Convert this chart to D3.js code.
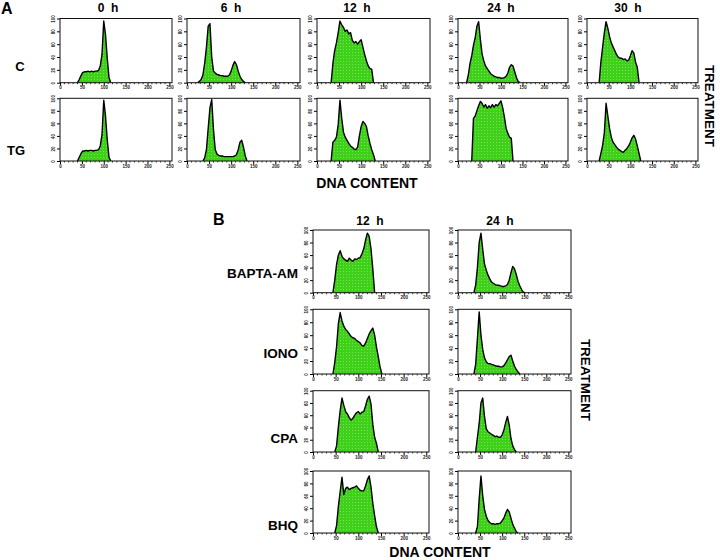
<!DOCTYPE html>
<html><head><meta charset="utf-8">
<script src="https://cdn.jsdelivr.net/npm/d3@7"></script>
<style>body{margin:0;background:#fff} text{font-family:"Liberation Sans",Arial,Helvetica,sans-serif}</style>
</head><body><svg id="c" width="720" height="560"></svg>
<script>
// ---------- data ----------
const binWidth = 4;                       // channels per histogram bin
const xTicks = [0, 50, 100, 150, 200, 250];
const yTicks = [0, 20, 40, 60, 80, 100];
const timesA = ["0  h", "6  h", "12  h", "24  h", "30  h"];
const rowsA = ["C", "TG"];
const timesB = ["12  h", "24  h"];
const rowsB = ["BAPTA-AM", "IONO", "CPA", "BHQ"];

// first channel of each histogram
const startA_C  = [40, 24, 32, 20, 28];
const startA_TG = [40, 36, 32, 32, 28];
const startB_12 = [44, 44, 48, 48];
const startB_24 = [36, 36, 40, 40];

// A, control
const A_C_0h  = [0,5,11,16,17,17,18,17,18,17,18,18,19,26,44,96,75,38,8,0];
const A_C_6h  = [0,2,5,12,30,55,88,92,40,18,15,13,12,11,11,10,10,10,12,18,27,33,28,18,10,5,2,0];
const A_C_12h = [0,30,50,62,78,96,90,86,80,82,76,78,66,62,64,60,64,67,55,44,34,26,22,21,0];
const A_C_24h = [0,12,30,42,58,70,88,95,68,45,34,26,22,18,14,12,10,9,8,8,7,7,8,10,15,24,28,26,17,8,2,0];
const A_C_30h = [0,32,55,78,95,85,72,62,56,50,44,40,38,38,36,37,34,35,42,50,46,32,24,0];
// A, thapsigargin
const A_TG_0h  = [0,6,12,16,16,17,16,17,17,16,17,17,18,24,42,97,72,34,6,0];
const A_TG_6h  = [0,5,18,52,85,98,50,18,11,9,8,8,7,7,7,7,7,7,8,10,18,30,33,22,8,0];
const A_TG_12h = [0,30,33,38,58,97,68,46,38,33,28,24,22,19,18,22,40,55,63,60,55,40,28,18,10,0];
const A_TG_24h = [0,68,72,80,88,95,92,86,90,84,88,85,90,86,90,88,92,96,85,70,52,44,38,36,0];
const A_TG_30h = [0,12,25,45,92,72,52,38,30,26,22,19,17,15,14,17,20,24,30,37,41,35,24,12,0];
// B, 12 h
const B_BAPTA_12h = [0,20,45,60,67,58,54,52,50,55,52,50,54,53,55,56,62,70,84,95,90,70,38,0];
const B_IONO_12h  = [0,18,42,78,95,82,74,69,66,62,58,56,55,52,50,48,44,43,48,55,62,67,71,60,42,27,11,0];
const B_CPA_12h   = [0,10,41,68,88,76,66,62,56,52,55,60,64,66,62,65,66,75,86,91,78,45,24,14,0];
const B_BHQ_12h   = [0,12,43,67,90,62,72,74,70,72,73,74,76,72,69,68,68,76,86,92,74,48,28,10,0];
// B, 24 h
const B_BAPTA_24h = [0,12,40,80,95,69,46,36,28,22,17,15,13,12,12,11,10,10,11,13,20,32,42,38,29,18,11,5,1,0];
const B_IONO_24h  = [0,15,55,96,60,38,25,19,16,16,15,14,13,12,12,11,11,13,17,22,27,29,20,12,7,3,0];
const B_CPA_24h   = [0,24,47,80,88,58,38,33,31,29,27,25,26,24,24,28,36,48,58,44,22,10,4,0];
const B_BHQ_24h   = [0,10,55,92,60,38,27,20,17,15,15,14,15,15,16,20,24,32,38,34,24,14,8,2,0];

// ---------- layout ----------
const colsA = [[60,172],[187,300],[317,430],[458,568],[587,698]];
const rowYA = [[18.5,82.7],[98.3,161]];
const colsB = [[313,429],[458,571]];
const rowYB = [[230,292.7],[309.3,374],[390.7,452],[471,533]];

const svg = d3.select("#c");
const defs = svg.append("defs");
const pat = defs.append("pattern").attr("id","dots").attr("width",3).attr("height",3)
  .attr("patternUnits","userSpaceOnUse");
pat.append("rect").attr("width",3).attr("height",3).attr("fill","#3fd11a");
pat.append("rect").attr("x",1).attr("y",1).attr("width",0.9).attr("height",0.9).attr("fill","#88e468");

function panel(xr, yr, start, values){
  const x = d3.scaleLinear().domain([0,256]).range(xr);
  const y = d3.scaleLinear().domain([0,100]).range([yr[1], yr[0]]);
  const g = svg.append("g");
  const pts = values.map((v,i)=>[start + i*binWidth, v]);
  g.append("path").datum(pts)
    .attr("d", d3.area().x(d=>x(d[0])).y0(y(0)).y1(d=>y(d[1])))
    .attr("fill","url(#dots)");
  g.append("path").datum(pts)
    .attr("d", d3.line().x(d=>x(d[0])).y(d=>y(d[1])))
    .attr("fill","none").attr("stroke","#000").attr("stroke-width",1.4).attr("stroke-linejoin","round");
  // x axis
  const xa = g.append("g").attr("transform",`translate(0,${yr[1]})`)
    .call(d3.axisBottom(x).tickValues(xTicks).tickSize(3).tickSizeOuter(0).tickPadding(0.5));
  xa.select(".domain").remove();
  xa.selectAll("text").attr("font-size",4.5).attr("font-weight","bold").attr("fill","#222");
  const minor = d3.range(10, 256, 10).filter(v=>v%50!==0);
  g.append("g").selectAll("line").data(minor).join("line")
    .attr("x1",d=>x(d)).attr("x2",d=>x(d)).attr("y1",yr[1]).attr("y2",yr[1]+1.5)
    .attr("stroke","#000").attr("stroke-width",0.8);
  // y axis
  const ya = g.append("g").attr("transform",`translate(${xr[0]},0)`)
    .call(d3.axisLeft(y).tickValues(yTicks).tickSize(3).tickSizeOuter(0));
  ya.select(".domain").remove();
  ya.selectAll("text").attr("x",null).attr("dy",null)
    .attr("transform","translate(-5,0) rotate(-90)").attr("text-anchor","middle")
    .attr("font-size",4.5).attr("font-weight","bold").attr("fill","#222");
  xa.selectAll("line").attr("stroke","#000");
  ya.selectAll("line").attr("stroke","#000");
  // frame
  g.append("rect").attr("x",xr[0]).attr("y",yr[0]).attr("width",xr[1]-xr[0]).attr("height",yr[1]-yr[0])
    .attr("fill","none").attr("stroke","#111").attr("stroke-width",1);
}

const dataA = [
  [A_C_0h, A_C_6h, A_C_12h, A_C_24h, A_C_30h],
  [A_TG_0h, A_TG_6h, A_TG_12h, A_TG_24h, A_TG_30h]
];
const startsA = [startA_C, startA_TG];
dataA.forEach((row, r) => row.forEach((vals, c) => panel(colsA[c], rowYA[r], startsA[r][c], vals)));

const dataB = [
  [B_BAPTA_12h, B_BAPTA_24h],
  [B_IONO_12h,  B_IONO_24h],
  [B_CPA_12h,   B_CPA_24h],
  [B_BHQ_12h,   B_BHQ_24h]
];
dataB.forEach((row, r) => row.forEach((vals, c) =>
  panel(colsB[c], rowYB[r], c === 0 ? startB_12[r] : startB_24[r], vals)));

// ---------- text ----------
function label(x, y, txt, size, anchor, rot){
  const t = svg.append("text").attr("font-weight","bold").attr("font-size",size)
    .attr("text-anchor",anchor||"middle").attr("fill","#000").style("white-space","pre").text(txt);
  if (rot) t.attr("transform",`translate(${x},${y}) rotate(${rot})`);
  else t.attr("x",x).attr("y",y);
  return t;
}
label(1, 13.5, "A", 16, "start");
const titleXA = [108, 231, 357, 501, 628];
timesA.forEach((t,i)=>label(titleXA[i], 12, t, 12));
const rowLabelA = [[20,71],[16,155]];
rowsA.forEach((t,i)=>label(rowLabelA[i][0], rowLabelA[i][1], t, 13));
label(705, 106, "TREATMENT", 13.5, "middle", 90);
label(367, 188, "DNA CONTENT", 14);

label(213, 225, "B", 16, "start");
const titleXB = [370, 500];
timesB.forEach((t,i)=>label(titleXB[i], 225, t, 12));
const rowLabelYB = [278, 358, 443, 530];
rowsB.forEach((t,i)=>label(298, rowLabelYB[i], t, 13.5, "end"));
label(581, 380, "TREATMENT", 13.5, "middle", 90);
label(440, 557, "DNA CONTENT", 14);
</script></body></html>
